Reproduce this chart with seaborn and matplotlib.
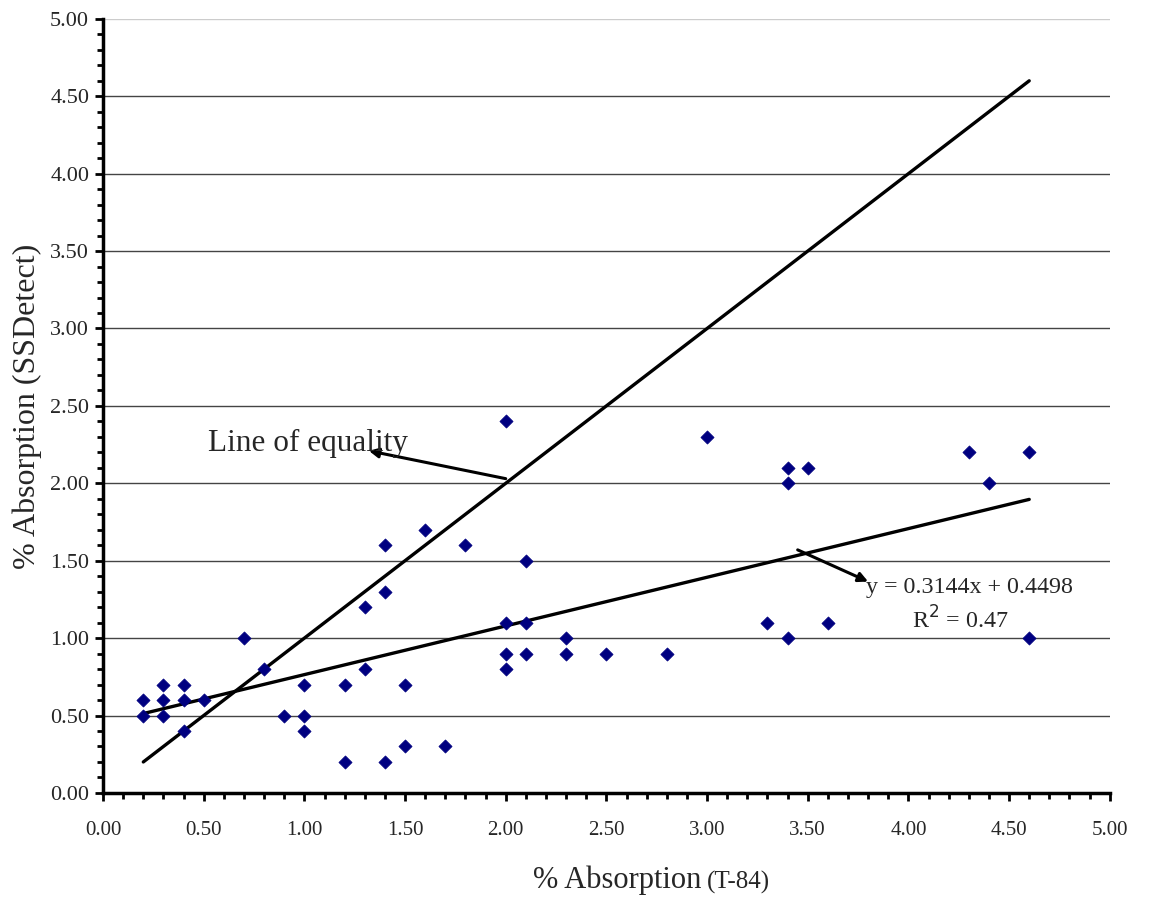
import matplotlib
matplotlib.use("Agg")
import matplotlib.pyplot as plt
import seaborn as sns
import numpy as np
import pandas as pd
from matplotlib.ticker import MultipleLocator, FormatStrFormatter
from matplotlib.offsetbox import TextArea, HPacker, AnnotationBbox

# Data: % absorption T-84 (x) vs SSDetect (y)
t84 = [0.2, 0.2, 0.3, 0.3, 0.3, 0.4, 0.4, 0.4, 0.5, 0.7, 0.8, 0.9,
       1.0, 1.0, 1.0, 1.2, 1.2, 1.3, 1.3, 1.4, 1.4, 1.4, 1.5, 1.5,
       1.6, 1.7, 1.8, 2.0, 2.0, 2.0, 2.0, 2.1, 2.1, 2.1, 2.3, 2.3,
       2.5, 2.8, 3.0, 3.3, 3.4, 3.4, 3.4, 3.5, 3.6, 4.3, 4.4, 4.6, 4.6]
ssdetect = [0.6, 0.5, 0.7, 0.6, 0.5, 0.7, 0.6, 0.4, 0.6, 1.0, 0.8, 0.5,
            0.7, 0.5, 0.4, 0.7, 0.2, 1.2, 0.8, 1.6, 1.3, 0.2, 0.7, 0.3,
            1.7, 0.3, 1.6, 2.4, 1.1, 0.9, 0.8, 1.5, 1.1, 0.9, 1.0, 0.9,
            0.9, 0.9, 2.3, 1.1, 2.1, 2.0, 1.0, 2.1, 1.1, 2.2, 2.0, 2.2, 1.0]

slope = 0.3144
intercept = 0.4498
r2 = 0.47
line_x = [0.2, 4.6]

df = pd.DataFrame({"x": t84, "y": ssdetect})
eq_df = pd.DataFrame({"x": line_x, "y": line_x})
fit_df = pd.DataFrame({"x": line_x, "y": [slope * v + intercept for v in line_x]})

sns.set_style("white")
plt.rcParams["font.family"] = ["Liberation Serif", "DejaVu Serif"]

fig = plt.figure(figsize=(11.5, 8.99), dpi=100)
ax = fig.add_axes([0.0896, 0.118, 0.8754, 0.861])

ax.set_xlim(0, 5)
ax.set_ylim(0, 5)

# grid lines
for v in np.arange(0.5, 5.01, 0.5):
    ax.axhline(v, color="#cccccc" if v >= 5 else "#444444", lw=1.0, zorder=0)

sns.lineplot(data=eq_df, x="x", y="y", ax=ax, color="black", lw=2.4,
             estimator=None, sort=False, zorder=2)
sns.lineplot(data=fit_df, x="x", y="y", ax=ax, color="black", lw=2.4,
             estimator=None, sort=False, zorder=2)
sns.scatterplot(data=df, x="x", y="y", ax=ax, marker="D", s=45,
                color="#000080", edgecolor="#000080", linewidth=0.5, zorder=3)

for s in ["top", "right"]:
    ax.spines[s].set_visible(False)
for s in ["left", "bottom"]:
    ax.spines[s].set_linewidth(2.5)
    ax.spines[s].set_color("black")

ax.xaxis.set_major_locator(MultipleLocator(0.5))
ax.xaxis.set_minor_locator(MultipleLocator(0.1))
ax.yaxis.set_major_locator(MultipleLocator(0.5))
ax.yaxis.set_minor_locator(MultipleLocator(0.1))
ax.xaxis.set_major_formatter(FormatStrFormatter("%.2f"))
ax.yaxis.set_major_formatter(FormatStrFormatter("%.2f"))
ax.tick_params(which="major", direction="out", length=6, width=2,
               color="black", bottom=True, left=True, pad=4)
ax.tick_params(which="minor", direction="out", length=4, width=2,
               color="black", bottom=True, left=True)
ax.tick_params(axis="x", which="major", pad=14, labelsize=15)
ax.tick_params(axis="y", which="major", labelsize=16)

ax.set_xlabel("")
ax.set_ylabel("% Absorption (SSDetect)", fontsize=23, labelpad=6)

# x label with smaller suffix
ta1 = TextArea("% Absorption", textprops=dict(fontsize=22, family=["Liberation Serif"]))
ta2 = TextArea("(T-84)", textprops=dict(fontsize=18, family=["Liberation Serif"]))
pack = HPacker(children=[ta1, ta2], align="baseline", pad=0, sep=4)
ab = AnnotationBbox(pack, (0.545, -0.113), xycoords="axes fraction",
                    frameon=False, box_alignment=(0.5, 0.5))
ax.add_artist(ab)

# annotations
ax.annotate("", xy=(1.32, 2.21), xytext=(2.0, 2.03),
            arrowprops=dict(arrowstyle="-|>", color="black", lw=2.2,
                            mutation_scale=14, shrinkA=0, shrinkB=0))
ax.text(0.52, 2.26, "Line of equality", fontsize=22.5, va="center", ha="left")

ax.annotate("", xy=(3.8, 1.365), xytext=(3.45, 1.57),
            arrowprops=dict(arrowstyle="-|>", color="black", lw=2.2,
                            mutation_scale=14, shrinkA=0, shrinkB=0))
ax.text(3.79, 1.33, f"y = {slope}x + {intercept}", fontsize=17.3,
        va="center", ha="left")
ax.text(4.26, 1.12, f"R$^2$ = {r2}", fontsize=17.3, va="center", ha="center")

fig.savefig("out.png", dpi=100)
